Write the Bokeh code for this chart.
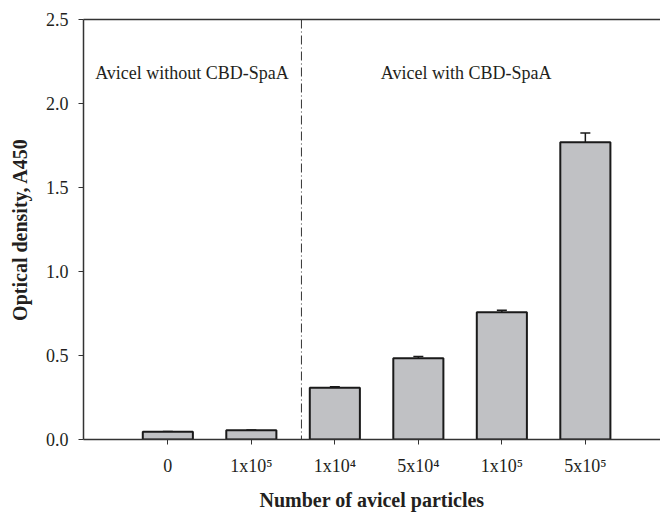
from bokeh.plotting import figure
from bokeh.models import Range1d, FixedTicker, Whisker, TeeHead, LinearAxis, Span, ColumnDataSource, NumeralTickFormatter
from bokeh.core.properties import value
from bokeh.embed import file_html
from bokeh.resources import INLINE

# ---- data ----
positions = [1, 2, 3, 4, 5, 6]
tick_labels = ["0", "1x10⁵", "1x10⁴", "5x10⁴", "1x10⁵", "5x10⁵"]
values = [0.046, 0.055, 0.308, 0.484, 0.758, 1.770]
errors = [0.002, 0.002, 0.006, 0.010, 0.012, 0.055]
y_ticks = [0.0, 0.5, 1.0, 1.5, 2.0, 2.5]
divider_x = 2.6
group_labels = ["Avicel without CBD-SpaA", "Avicel with CBD-SpaA"]
group_label_x = [0.13, 3.55]
group_label_y = [2.18, 2.18]

FONT = "Liberation Serif"
INK = "#231f20"

p = figure(width=660, height=515, output_backend="svg", toolbar_location=None,
           x_range=Range1d(-0.01, 6.9), y_range=Range1d(0, 2.5),
           min_border_left=83, min_border_top=19, min_border_bottom=76, min_border_right=0)
p.outline_line_color = None
p.xgrid.visible = False
p.ygrid.visible = False
p.background_fill_color = "white"

src = ColumnDataSource(dict(x=positions, top=values,
                            upper=[v + e for v, e in zip(values, errors)]))
p.vbar(x="x", top="top", bottom=0, width=0.6, source=src,
       fill_color="#c0c1c4", line_color="#1a1a1a", line_width=2)

w = Whisker(base="x", lower="top", upper="upper", source=src,
            line_color="#1a1a1a", line_width=1.5,
            lower_head=None, upper_head=TeeHead(size=10, line_color="#1a1a1a", line_width=1.5))
p.add_layout(w)

p.add_layout(Span(location=divider_x, dimension="height", line_color="#333333",
                  line_width=1, line_dash="9 3 1 3"))

p.text(x=group_label_x, y=group_label_y, text=group_labels,
       text_font=value(FONT), text_font_size="18px", text_baseline="alphabetic",
       text_color=INK)

# y axis
ya = p.yaxis[0]
ya.ticker = FixedTicker(ticks=y_ticks)
ya.formatter = NumeralTickFormatter(format="0.0")
ya.axis_label = "Optical density, A450"
ya.axis_label_text_font = FONT
ya.axis_label_text_font_style = "bold"
ya.axis_label_text_font_size = "20px"
ya.axis_label_text_color = INK
ya.major_label_text_font = FONT
ya.major_label_text_font_size = "18px"
ya.major_label_text_color = INK
ya.major_tick_in = 0
ya.major_tick_out = 5
ya.minor_tick_line_color = None
ya.axis_line_width = 1.5
ya.axis_line_color = "#333333"
ya.major_tick_line_color = "#333333"
ya.major_label_standoff = 10
ya.axis_label_standoff = 12

# x axis
xa = p.xaxis[0]
xa.ticker = FixedTicker(ticks=positions)
xa.major_label_overrides = {pos: lab for pos, lab in zip(positions, tick_labels)}
xa.axis_label = "Number of avicel particles"
xa.axis_label_text_font = FONT
xa.axis_label_text_font_style = "bold"
xa.axis_label_text_font_size = "20px"
xa.axis_label_text_color = INK
xa.major_label_text_font = FONT
xa.major_label_text_font_size = "18px"
xa.major_label_text_color = INK
xa.major_tick_in = 0
xa.major_tick_out = 5
xa.minor_tick_line_color = None
xa.axis_line_width = 1.5
xa.axis_line_color = "#333333"
xa.major_tick_line_color = "#333333"
xa.major_label_standoff = 11
xa.axis_label_standoff = 10

# top border line
top = LinearAxis(ticker=FixedTicker(ticks=[]), axis_line_width=1.5, axis_line_color="#333333",
                 major_tick_line_color=None, minor_tick_line_color=None,
                 major_label_text_font_size="0px")
p.add_layout(top, "above")

open("out.html", "w").write(file_html(p, INLINE))
